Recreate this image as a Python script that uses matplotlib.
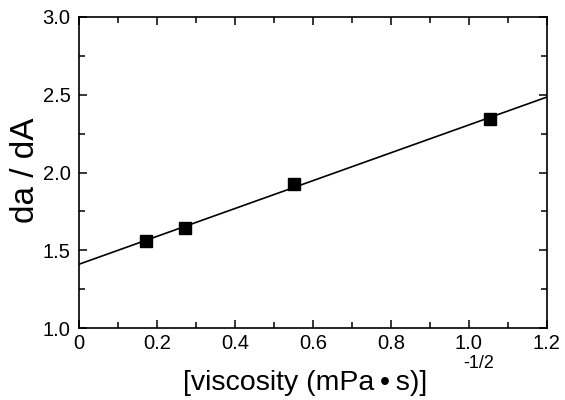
import numpy as np
import matplotlib
matplotlib.use('Agg')
import matplotlib.pyplot as plt
from matplotlib.ticker import MultipleLocator

# data
visc = [0.172, 0.272, 0.551, 1.054]
ratio = [1.56, 1.643, 1.926, 2.345]
fit_x = [0.0, 1.2]
fit_y = [1.41, 2.485]
xtick_labels = ['0', '0.2', '0.4', '0.6', '0.8', '1.0', '1.2']

plt.rcParams['font.family'] = ['Liberation Sans', 'DejaVu Sans']

fig = plt.figure(figsize=(5.65, 4.0), dpi=100)
ax = fig.add_axes([0.1398, 0.18, 0.828, 0.7775])

ax.plot(fit_x, fit_y, color='black', lw=1.2)
ax.plot(visc, ratio, 's', color='black', ms=9)

ax.set_xlim(0, 1.2)
ax.set_ylim(1.0, 3.0)
ax.set_xticks(np.arange(0, 1.21, 0.2))
ax.set_xticklabels(xtick_labels)
ax.xaxis.set_minor_locator(MultipleLocator(0.1))
ax.yaxis.set_major_locator(MultipleLocator(0.5))
ax.yaxis.set_minor_locator(MultipleLocator(0.25))
ax.tick_params(which='both', direction='in', top=True, right=True, width=1.1)
ax.tick_params(which='major', length=6, labelsize=14.5)
ax.tick_params(which='minor', length=4)
ax.tick_params(axis='x', pad=4)
ax.tick_params(axis='y', pad=6)
for s in ax.spines.values():
    s.set_linewidth(1.2)

fig.text(0.045, 0.575, 'da / dA', rotation=90, fontsize=24, ha='center', va='center')
fig.text(0.54, 0.025, '[viscosity (mPa\u2009\u2022\u2009s)]', fontsize=20.5, ha='center', va='baseline')
fig.text(0.82, 0.08, '-1/2', fontsize=13, ha='left', va='baseline')

fig.savefig('out.png', dpi=100)
